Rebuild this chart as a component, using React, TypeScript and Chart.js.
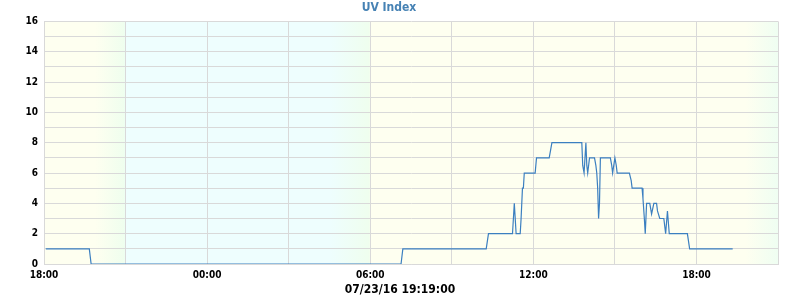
import React, { useEffect, useRef } from 'react';
import { Chart, registerables } from 'chart.js';

Chart.register(...registerables);

// Series: UV index readings, starting 07/22/16 18:00 (times roll over midnight)
const START_HOUR = 18;
const times = [
  '18:04', '19:40', '19:44', '07:08', '07:12', '10:16', '10:21', '11:14', '11:16', '11:18',
  '11:20', '11:22', '11:31', '11:33', '11:36', '11:38', '11:40', '12:04', '12:07', '12:35',
  '12:38', '12:41', '13:47', '13:49', '13:52', '13:54', '13:56', '13:58', '14:00', '14:04',
  '14:15', '14:18', '14:20', '14:22', '14:24', '14:26', '14:28', '14:50', '14:53', '14:55',
  '15:00', '15:03', '15:05', '15:32', '15:36', '15:38', '16:00', '16:02', '16:05', '16:07',
  '16:10', '16:17', '16:21', '16:26', '16:32', '16:34', '16:39', '16:48', '16:52', '16:56',
  '17:00', '17:40', '17:45', '19:20',
];
const uv = [
  1, 1, 0, 0, 1, 1, 2, 2, 3, 4,
  3, 2, 2, 3, 5, 5, 6, 6, 7, 7,
  7.5, 8, 8, 6.5, 6, 6, 8, 6.5, 6, 7,
  7, 6.5, 6, 5, 3, 4, 7, 7, 6.5, 6,
  7, 6.5, 6, 6, 5.5, 5, 5, 4.3, 3, 2,
  4, 4, 3.3, 4, 4, 3.5, 3, 3, 2, 3.5,
  2, 2, 1, 1,
];

const xTickLabelHours = [0, 6, 12, 18, 24];
const X_MAX_HOURS = 27; // 18:00 -> next day 21:00
const Y_MAX = 16;
const TITLE = 'UV Index';
const X_TITLE = '07/23/16 19:19:00';

// Day / night background shading (clock times and colours)
const shadeTimes = ['18:00', '19:53', '20:57', '21:00', '04:30', '05:58', '06:00', '19:48', '21:00'];
const shadeColors = ['#fefff0', '#fefff0', '#effeee', '#eefefe', '#eefefe', '#effeee', '#fefff0', '#fefff0', '#effef2'];

function toHours(list: string[]): number[] {
  const out: number[] = [];
  let last = -Infinity;
  for (const t of list) {
    const [h, m] = t.split(':').map(Number);
    let v = h + m / 60 - START_HOUR;
    while (v < last - 1e-9) v += 24;
    out.push(v);
    last = v;
  }
  return out;
}

const FONT = '"DejaVu Sans Condensed", "DejaVu Sans", sans-serif';

export default function App() {
  const ref = useRef<HTMLCanvasElement | null>(null);

  useEffect(() => {
    if (!ref.current) return;
    const xs = toHours(times);
    const pts = xs.map((x, i) => ({ x, y: uv[i] }));
    const shadeX = toHours(shadeTimes);

    const bgPlugin = {
      id: 'bgShade',
      beforeDraw(chart: any) {
        const { ctx, chartArea, scales } = chart;
        if (!chartArea) return;
        const sx = scales.x;
        const g = ctx.createLinearGradient(chartArea.left, 0, chartArea.right, 0);
        const w = chartArea.right - chartArea.left;
        shadeX.forEach((h, i) => {
          const p = (sx.getPixelForValue(h) - chartArea.left) / w;
          g.addColorStop(Math.min(1, Math.max(0, p)), shadeColors[i]);
        });
        ctx.save();
        ctx.fillStyle = g;
        ctx.fillRect(chartArea.left, chartArea.top, w, chartArea.bottom - chartArea.top);
        ctx.restore();
      },
      afterDraw(chart: any) {
        const { ctx, width, height } = chart;
        ctx.save();
        ctx.font = `bold 12px ${FONT}`;
        ctx.fillStyle = '#000';
        ctx.textAlign = 'center';
        ctx.textBaseline = 'middle';
        ctx.fillText(X_TITLE, width / 2, height - 10);
        ctx.restore();
      },
    };

    const chart = new Chart(ref.current, {
      type: 'line',
      data: {
        datasets: [
          {
            data: pts,
            borderColor: '#3b7fc0',
            borderWidth: 1.2,
            pointRadius: 0,
            tension: 0,
            fill: false,
          },
        ],
      },
      options: {
        animation: false,
        responsive: false,
        maintainAspectRatio: false,
        layout: { padding: { left: 0, right: 22, top: 0, bottom: 0 } },
        plugins: {
          legend: { display: false },
          tooltip: { enabled: false },
          title: {
            display: true,
            text: TITLE,
            color: '#4682b4',
            font: { family: FONT, size: 12, weight: 'bold' },
            padding: { top: 1, bottom: 6 },
          },
        },
        scales: {
          x: {
            type: 'linear',
            min: 0,
            max: X_MAX_HOURS,
            grid: { color: '#d9d9d9', drawTicks: false, lineWidth: 1 },
            border: { color: '#d9d9d9' },
            ticks: {
              stepSize: 3,
              autoSkip: false,
              maxRotation: 0,
              padding: 5,
              color: '#000',
              font: { family: FONT, size: 10, weight: 'bold' },
              callback: (v: any) => {
                const n = Number(v);
                if (!xTickLabelHours.includes(n)) return '';
                const h = (START_HOUR + n) % 24;
                return `${String(h).padStart(2, '0')}:00`;
              },
            },
            afterFit: (s: any) => {
              s.height = 36;
            },
          },
          y: {
            min: 0,
            max: Y_MAX,
            grid: { color: '#d9d9d9', drawTicks: false, lineWidth: 1 },
            border: { color: '#d9d9d9' },
            ticks: {
              stepSize: 1,
              autoSkip: false,
              padding: 6,
              color: '#000',
              font: { family: FONT, size: 10, weight: 'bold' },
              callback: (v: any) => (Number(v) % 2 === 0 ? String(v) : ''),
            },
            afterFit: (s: any) => {
              s.width = 44;
            },
          },
        },
      },
      plugins: [bgPlugin],
    } as any);

    return () => chart.destroy();
  }, []);

  return (
    <div style={{ position: 'fixed', left: 0, top: 0, width: 800, height: 300, background: '#fff' }}>
      <canvas ref={ref} width={800} height={300} style={{ width: 800, height: 300, display: 'block' }} />
    </div>
  );
}
